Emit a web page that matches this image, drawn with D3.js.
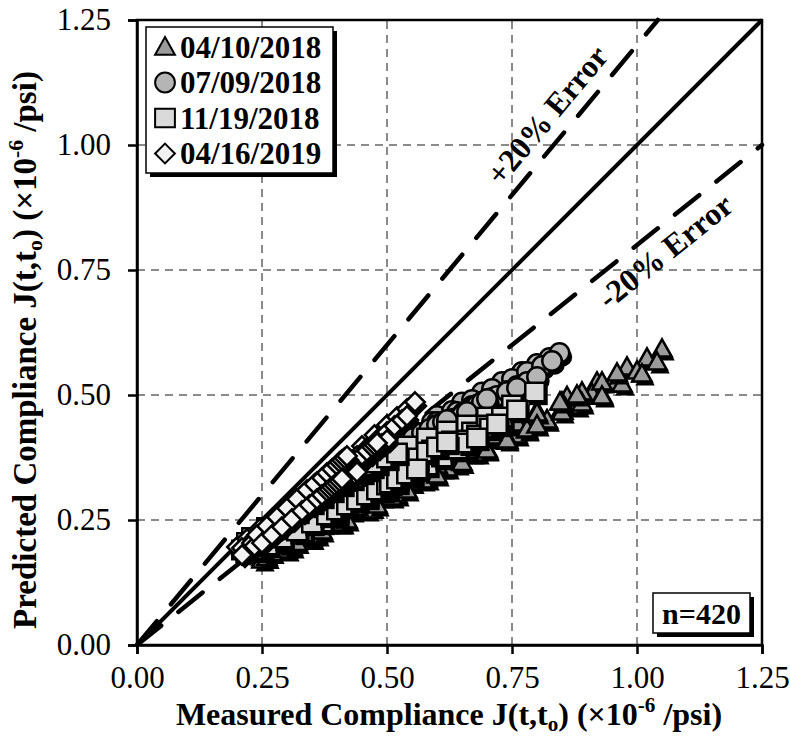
<!DOCTYPE html>
<html><head><meta charset="utf-8">
<script src="https://cdn.jsdelivr.net/npm/d3@7"></script>
<style>body{margin:0;background:#fff} svg{display:block}</style>
</head><body>
<svg id="chart" width="790" height="736"></svg>
<script>
// Creep compliance: predicted vs measured, four casting dates
const seriesNames = ["04/10/2018", "07/09/2018", "11/19/2018", "04/16/2019"];
const axisTicks = [0, 0.25, 0.5, 0.75, 1.0, 1.25];
const errorRatios = [1.2, 0.8];
const errorLabels = ["+20% Error", "-20% Error"];
const sampleLabel = "n=420";

// [measured, predicted] in 1e-6/psi, listed specimen by specimen
const cast20180410 = [
  [0.22,0.185],[0.26,0.20],[0.30,0.218],[0.35,0.243],[0.40,0.268],[0.45,0.292],[0.50,0.318],[0.56,0.347],[0.62,0.378],[0.68,0.408],[0.74,0.438],[0.80,0.468],[0.86,0.497],[0.92,0.526],[0.98,0.556],[1.02,0.574],[1.05,0.592],
  [0.24,0.18],[0.28,0.196],[0.33,0.22],[0.38,0.244],[0.43,0.268],[0.49,0.296],[0.55,0.325],[0.61,0.354],[0.67,0.384],[0.73,0.413],[0.79,0.443],[0.85,0.473],[0.91,0.503],[0.96,0.527],[1.00,0.548],[1.04,0.566],
  [0.25,0.17],[0.30,0.19],[0.35,0.213],[0.41,0.244],[0.47,0.275],[0.52,0.30],[0.58,0.332],[0.64,0.362],[0.70,0.392],[0.76,0.42],[0.82,0.45],[0.88,0.478],[0.93,0.50],[0.97,0.522],[1.01,0.542],
  [0.23,0.19],[0.27,0.205],[0.32,0.226],[0.37,0.25],[0.42,0.274],[0.47,0.298],[0.53,0.33],[0.59,0.36],[0.64,0.386],[0.70,0.414],[0.75,0.44],[0.80,0.462],[0.85,0.486],[0.89,0.506],[0.93,0.526],[0.96,0.544],
  [0.26,0.175],[0.31,0.196],[0.36,0.22],[0.406,0.244],[0.46,0.27],[0.51,0.296],[0.572,0.33],[0.62,0.354],[0.68,0.384],[0.74,0.414],[0.78,0.43],[0.82,0.45],[0.85,0.466],[0.89,0.484],[0.93,0.498],
  [0.24,0.19],[0.29,0.21],[0.34,0.232],[0.39,0.256],[0.44,0.28],[0.50,0.308],[0.55,0.336],[0.60,0.36],[0.66,0.39],[0.71,0.418],[0.76,0.444],[0.80,0.464],[0.846,0.486],[0.88,0.50],
  [0.27,0.185],[0.32,0.205],[0.37,0.228],[0.42,0.25],[0.48,0.28],[0.54,0.31],[0.60,0.34],[0.65,0.365],[0.70,0.39],[0.74,0.41],[0.78,0.432],[0.80,0.44]
];
const cast20180709 = [
  [0.25,0.218],[0.30,0.255],[0.35,0.292],[0.40,0.33],[0.45,0.366],[0.50,0.40],[0.55,0.43],[0.60,0.458],[0.65,0.485],[0.69,0.505],[0.73,0.526],[0.77,0.546],[0.80,0.562],[0.825,0.574],[0.845,0.584],
  [0.24,0.205],[0.29,0.242],[0.34,0.278],[0.39,0.315],[0.44,0.35],[0.49,0.384],[0.54,0.416],[0.59,0.446],[0.63,0.468],[0.67,0.49],[0.71,0.512],[0.75,0.532],[0.78,0.546],[0.81,0.558],[0.83,0.568],
  [0.26,0.21],[0.31,0.246],[0.36,0.282],[0.41,0.318],[0.46,0.352],[0.51,0.386],[0.56,0.418],[0.60,0.44],[0.64,0.46],[0.68,0.48],[0.71,0.494],[0.74,0.508],[0.76,0.518],[0.78,0.526],[0.80,0.536],
  [0.23,0.20],[0.28,0.235],[0.33,0.27],[0.38,0.305],[0.43,0.34],[0.48,0.374],[0.52,0.40],[0.56,0.424],[0.60,0.446],[0.64,0.466],[0.67,0.478],[0.70,0.49],[0.72,0.498],[0.74,0.506],[0.76,0.514],
  [0.27,0.215],[0.32,0.25],[0.37,0.286],[0.42,0.32],[0.47,0.354],[0.51,0.38],[0.55,0.404],[0.58,0.422],[0.61,0.44],[0.63,0.452],[0.652,0.464],[0.666,0.472],[0.68,0.48],[0.69,0.486],[0.70,0.492],
  [0.25,0.205],[0.30,0.24],[0.35,0.275],[0.40,0.31],[0.44,0.336],[0.48,0.362],[0.52,0.386],[0.55,0.404],[0.58,0.42],[0.60,0.43],[0.616,0.44],[0.63,0.448],[0.64,0.454],[0.65,0.46],[0.66,0.466],
  [0.28,0.225],[0.32,0.254],[0.36,0.283],[0.40,0.312],[0.44,0.34],[0.47,0.36],[0.50,0.38],[0.52,0.394],[0.54,0.406],[0.552,0.414],[0.57,0.424],[0.585,0.432],[0.60,0.44],[0.612,0.446],[0.62,0.45]
];
const cast20181119 = [
  [0.22,0.205],[0.26,0.235],[0.30,0.262],[0.34,0.288],[0.38,0.314],[0.42,0.338],[0.46,0.36],[0.50,0.38],[0.54,0.398],[0.58,0.414],[0.62,0.428],[0.66,0.44],[0.70,0.456],[0.75,0.48],[0.796,0.506],
  [0.23,0.20],[0.27,0.225],[0.31,0.248],[0.35,0.27],[0.39,0.292],[0.43,0.314],[0.47,0.334],[0.51,0.354],[0.55,0.372],[0.59,0.39],[0.63,0.408],[0.67,0.426],[0.70,0.44],[0.73,0.456],[0.76,0.47],
  [0.24,0.195],[0.28,0.216],[0.32,0.236],[0.36,0.256],[0.40,0.276],[0.44,0.296],[0.48,0.316],[0.52,0.336],[0.56,0.356],[0.60,0.376],[0.63,0.392],[0.66,0.41],[0.68,0.42],[0.706,0.434],[0.72,0.442],
  [0.25,0.19],[0.29,0.208],[0.33,0.226],[0.37,0.246],[0.40,0.262],[0.43,0.278],[0.46,0.296],[0.49,0.31],[0.52,0.326],[0.55,0.342],[0.58,0.36],[0.61,0.376],[0.64,0.392],[0.66,0.404],[0.68,0.414],
  [0.21,0.19],[0.25,0.212],[0.29,0.232],[0.33,0.252],[0.37,0.272],[0.40,0.288],[0.43,0.304],[0.46,0.32],[0.49,0.336],[0.52,0.352],[0.54,0.362],[0.56,0.374],[0.58,0.386],[0.60,0.396],[0.62,0.406],
  [0.26,0.20],[0.29,0.214],[0.32,0.228],[0.35,0.244],[0.38,0.26],[0.40,0.27],[0.42,0.28],[0.44,0.29],[0.46,0.30],[0.48,0.31],[0.50,0.32],[0.506,0.324],[0.52,0.332],[0.54,0.342],[0.56,0.352],
  [0.23,0.215],[0.26,0.232],[0.29,0.25],[0.32,0.268],[0.35,0.286],[0.37,0.298],[0.39,0.31],[0.41,0.322],[0.43,0.334],[0.45,0.346],[0.46,0.352],[0.47,0.358],[0.48,0.364],[0.50,0.374],[0.52,0.384]
];
const cast20190416 = [
  [0.20,0.196],[0.22,0.212],[0.245,0.232],[0.27,0.252],[0.30,0.276],[0.33,0.30],[0.36,0.326],[0.39,0.35],[0.42,0.374],[0.45,0.398],[0.475,0.42],[0.50,0.44],[0.52,0.456],[0.54,0.472],[0.556,0.486],
  [0.21,0.194],[0.235,0.214],[0.26,0.234],[0.29,0.258],[0.32,0.282],[0.35,0.306],[0.38,0.33],[0.41,0.354],[0.44,0.378],[0.46,0.394],[0.48,0.41],[0.50,0.426],[0.515,0.438],[0.53,0.45],[0.54,0.458],
  [0.22,0.186],[0.25,0.21],[0.272,0.228],[0.30,0.25],[0.32,0.266],[0.345,0.286],[0.366,0.303],[0.39,0.322],[0.41,0.338],[0.43,0.354],[0.45,0.37],[0.465,0.382],[0.48,0.394],[0.49,0.402],[0.50,0.41],
  [0.23,0.204],[0.255,0.224],[0.28,0.244],[0.305,0.264],[0.33,0.284],[0.355,0.304],[0.38,0.324],[0.40,0.34],[0.42,0.356],[0.435,0.368],[0.45,0.38],[0.46,0.388],[0.47,0.396],[0.475,0.40],[0.48,0.404],
  [0.21,0.18],[0.235,0.198],[0.26,0.216],[0.285,0.234],[0.31,0.252],[0.33,0.266],[0.35,0.28],[0.37,0.294],[0.385,0.306],[0.40,0.316],[0.41,0.324],[0.42,0.33],[0.43,0.338],[0.435,0.342],[0.44,0.346],
  [0.24,0.22],[0.26,0.238],[0.28,0.256],[0.30,0.274],[0.32,0.292],[0.34,0.31],[0.355,0.322],[0.37,0.334],[0.38,0.344],[0.39,0.352],[0.40,0.36],[0.405,0.366],[0.41,0.37],[0.415,0.374],[0.42,0.378],
  [0.25,0.204],[0.27,0.22],[0.29,0.236],[0.31,0.252],[0.33,0.268],[0.345,0.28],[0.36,0.292],[0.37,0.30],[0.38,0.308],[0.385,0.312],[0.39,0.316],[0.395,0.32],[0.40,0.324],[0.405,0.328],[0.41,0.332]
];
const seriesData = [cast20180410, cast20180709, cast20181119, cast20190416];

const FONT = "'Times New Roman','Liberation Serif',serif";
const svg = d3.select("#chart");
const W = 790, H = 736;
const m = {left: 137, right: 28, top: 20, bottom: 91};

const x = d3.scaleLinear().domain([0, 1.25]).range([m.left, W - m.right]);
const y = d3.scaleLinear().domain([0, 1.25]).range([H - m.bottom, m.top]);

// marker shapes
const shapes = [
  {fill: "#9b9b9b", path: s => `M0,${-9*s}L${9*s},${7*s}L${-9*s},${7*s}Z`},
  {fill: "#b5b5b5", path: s => `M${9*s},0A${9*s},${9*s} 0 1,1 ${-9*s},0A${9*s},${9*s} 0 1,1 ${9*s},0Z`},
  {fill: "#dadada", path: s => `M${-9*s},${-8.5*s}H${9*s}V${8.5*s}H${-9*s}Z`},
  {fill: "#f2f2f2", path: s => `M0,${-9*s}L${9*s},0L0,${9*s}L${-9*s},0Z`}
];
const markerScale = 1.08;

// gridlines
const gridVals = axisTicks.slice(1, -1);
const grid = svg.append("g").attr("stroke", "#8a8a8a").attr("stroke-width", 2).attr("stroke-dasharray", "8,6");
grid.selectAll("line.v").data(gridVals).join("line")
  .attr("x1", d => x(d)).attr("x2", d => x(d)).attr("y1", y(0)).attr("y2", y(1.25));
grid.selectAll("line.h").data(gridVals).join("line")
  .attr("y1", d => y(d)).attr("y2", d => y(d)).attr("x1", x(0)).attr("x2", x(1.25));

// 1:1 and ±20% reference lines
const line = d3.line().x(d => x(d[0])).y(d => y(d[1]));
svg.append("path").attr("d", line([[0, 0], [1.25, 1.25]]))
  .attr("stroke", "#000").attr("stroke-width", 4).attr("fill", "none");
errorRatios.forEach(r => {
  const end = r >= 1 ? [1.25 / r, 1.25] : [1.25, 1.25 * r];
  svg.append("path").attr("d", line([[0, 0], end]))
    .attr("stroke", "#000").attr("stroke-width", 4.5).attr("fill", "none")
    .attr("stroke-dasharray", "31,22").attr("stroke-linecap", "round");
});

// error labels, set parallel to their lines
const labelPos = [[0.82, 1.06], [1.056, 0.788]];
errorRatios.forEach((r, i) => {
  const ang = -Math.atan(r) * 180 / Math.PI;
  svg.append("text")
    .attr("transform", `translate(${x(labelPos[i][0])},${y(labelPos[i][1])}) rotate(${ang})`)
    .attr("text-anchor", "middle").attr("dy", "0.35em")
    .attr("font-family", FONT).attr("font-weight", "bold").attr("font-size", 32)
    .text(errorLabels[i]);
});

// data markers with drop shadows
seriesData.forEach((pts, si) => {
  const g = svg.append("g");
  pts.forEach(p => {
    const t = g.append("g").attr("transform", `translate(${x(p[0])},${y(p[1])})`);
    t.append("path").attr("d", shapes[si].path(markerScale)).attr("transform", "translate(3,4)").attr("fill", "#000");
    t.append("path").attr("d", shapes[si].path(markerScale)).attr("fill", shapes[si].fill)
      .attr("stroke", "#000").attr("stroke-width", 2.5).attr("stroke-linejoin", "miter");
  });
});

// frame
svg.append("rect").attr("x", x(0)).attr("y", y(1.25)).attr("width", x(1.25) - x(0)).attr("height", y(0) - y(1.25))
  .attr("fill", "none").attr("stroke", "#000").attr("stroke-width", 2.5);

// axes
const fmt = d3.format(".2f");
const xAxis = svg.append("g").attr("transform", `translate(0,${y(0)})`)
  .call(d3.axisBottom(x).tickValues(axisTicks).tickFormat(fmt).tickSize(9).tickPadding(12));
const yAxis = svg.append("g").attr("transform", `translate(${x(0)},0)`)
  .call(d3.axisLeft(y).tickValues(axisTicks).tickFormat(fmt).tickSize(9).tickPadding(17));
[xAxis, yAxis].forEach(a => {
  a.select(".domain").attr("stroke-width", 2.5);
  a.selectAll(".tick line").attr("stroke-width", 2.5);
  a.selectAll("text").attr("font-family", FONT).attr("font-size", 31).attr("fill", "#000");
});

// axis titles
function title(sel, lead, size) {
  sel.attr("font-family", FONT).attr("font-weight", "bold").attr("font-size", size).attr("text-anchor", "middle");
  sel.append("tspan").text(lead + " J(t,t");
  sel.append("tspan").attr("font-size", size * 0.66).attr("dy", 6).text("o");
  sel.append("tspan").attr("dy", -6).text(") (\u00d710");
  sel.append("tspan").attr("font-size", size * 0.66).attr("dy", -13).text("-6");
  sel.append("tspan").attr("dy", 13).text(" /psi)");
}
title(svg.append("text").attr("x", 449).attr("y", 725), "Measured Compliance", 32);
title(svg.append("text").attr("transform", `translate(36,350) rotate(-90)`), "Predicted Compliance", 33);

// legend
const lg = svg.append("g");
lg.append("rect").attr("x", 150).attr("y", 31).attr("width", 187).attr("height", 146).attr("fill", "#000");
lg.append("rect").attr("x", 146).attr("y", 27).attr("width", 187).attr("height", 146)
  .attr("fill", "#fff").attr("stroke", "#000").attr("stroke-width", 1.5);
seriesNames.forEach((name, i) => {
  const cy = 47 + i * 35.5;
  lg.append("path").attr("d", shapes[i].path(1.1)).attr("transform", `translate(165,${cy})`)
    .attr("fill", shapes[i].fill).attr("stroke", "#000").attr("stroke-width", 2);
  lg.append("text").attr("x", 180).attr("y", cy + 10.5)
    .attr("font-family", FONT).attr("font-weight", "bold").attr("font-size", 31).text(name);
});

// sample size
const nb = svg.append("g");
nb.append("rect").attr("x", 657).attr("y", 597).attr("width", 97).attr("height", 40).attr("fill", "#000");
nb.append("rect").attr("x", 653).attr("y", 593).attr("width", 97).attr("height", 40)
  .attr("fill", "#fff").attr("stroke", "#000").attr("stroke-width", 1.5);
nb.append("text").attr("x", 701.5).attr("y", 624).attr("text-anchor", "middle")
  .attr("font-family", FONT).attr("font-weight", "bold").attr("font-size", 30).text(sampleLabel);
</script>
</body></html>
